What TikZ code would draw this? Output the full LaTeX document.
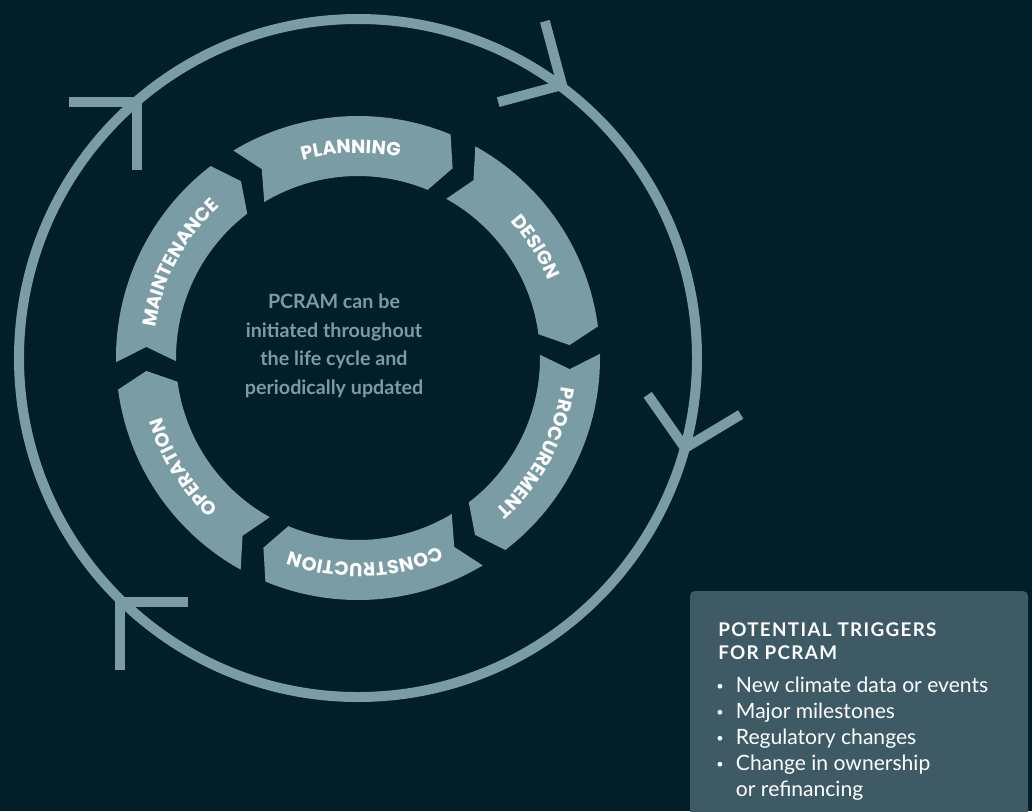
\documentclass[tikz,border=0pt]{standalone}
\usepackage{fontspec}
\setmainfont{Lato}
\newfontfamily\stagefont{Poppins}
\usepackage{tikz}
\usetikzlibrary{decorations.text}

\definecolor{night}{HTML}{021E28}
\definecolor{steel}{HTML}{7A9CA5}
\definecolor{slate}{HTML}{3E5B65}

\newcommand{\dotitem}{\makebox[14pt][l]{\raisebox{0.25ex}{\scalebox{0.6}{•}}}}

\begin{document}
\begin{tikzpicture}[ x=0.025cm , y=-0.025cm ,
  stage/.style = { fill=steel } ,
  barb/.style = { draw=steel , line width=7.1pt , line join=miter } ]

\useasboundingbox (0,0) rectangle (1032,811);
\fill [ night ] (0,0) rectangle (1032,811);

\coordinate (c) at (358,358);
\draw [ steel , line width=7.1pt ] (c) circle [ radius=339 ];

\coordinate (tip_0) at (137,102);
\coordinate (tip_1) at (562,85);
\coordinate (tip_2) at (685,448);
\coordinate (tip_3) at (120,602);
\draw [ barb ] ([shift={(180:68)}]tip_0) -- (tip_0) -- ([shift={(90:68)}]tip_0);
\draw [ barb ] ([shift={(-105:66)}]tip_1) -- (tip_1) -- ([shift={(165:66)}]tip_1);
\draw [ barb ] ([shift={(-125:65)}]tip_2) -- (tip_2) -- ([shift={(-31:65)}]tip_2);
\draw [ barb ] ([shift={(0:68)}]tip_3) -- (tip_3) -- ([shift={(90:68)}]tip_3);

\begin{scope}[ shift={(c)} ]
\stagefont\bfseries\fontsize{13.5}{16}\selectfont
\foreach \s/\word in {-121/PLANNING, -61/DESIGN, -1/PROCUREMENT,
                      59/CONSTRUCTION, 119/OPERATION, 179/MAINTENANCE} {
  \pgfmathsetmacro{\e}{\s+53.5}
  \fill [ stage ] (\s:242) arc [ start angle=\s , end angle=\e , radius=242 ]
    -- (\e+4:212) -- (\e:182) arc [ start angle=\e , end angle=\s , radius=182 ]
    -- (\s+4:212) -- cycle;
  \path [ decorate , decoration={ text along path , text/.expanded=\word ,
      text align=center , text color=white } ]
    (\s-11:205) arc [ start angle=\s-11 , end angle=\s+69 , radius=205 ];
}
\end{scope}

\node [ text=steel , font=\bfseries\fontsize{14}{20.3}\selectfont , align=center ]
  (centre) at (334,346) {PCRAM can be\\initiated throughout\\the life cycle and\\periodically updated};

\fill [ slate , rounded corners=3.5pt ] (690,591) rectangle (1028,830);
\node [ anchor=north west , inner sep=0 , align=left , text=white ,
  font=\bfseries\fontsize{13.4}{17}\selectfont\addfontfeatures{LetterSpace=7} ]
  (triggers) at (718,622) {POTENTIAL TRIGGERS\\FOR PCRAM};
\node [ anchor=north west , inner sep=0 , align=left , text=white ,
  font=\fontsize{15}{18.5}\selectfont ] (trigger_list) at (716,677)
  {\dotitem New climate data or events\\
   \dotitem Major milestones\\
   \dotitem Regulatory changes\\
   \dotitem Change in ownership\\
   \makebox[14pt][l]{}or refinancing};
\end{tikzpicture}
\end{document}
